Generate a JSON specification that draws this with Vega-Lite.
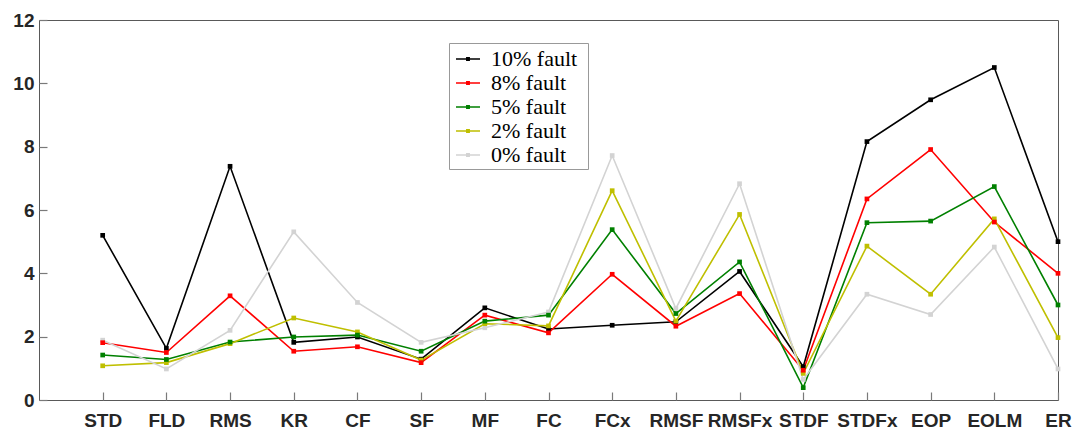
{
  "$schema": "https://vega.github.io/schema/vega-lite/v6.json",
  "width": 1019,
  "height": 380,
  "autosize": {"type": "none"},
  "padding": {"left": 39, "top": 20, "right": 19, "bottom": 32},
  "background": "white",
  "config": {
    "view": {"stroke": "#595959", "strokeWidth": 1},
    "axis": {"grid": false, "domain": false, "ticks": true, "tickColor": "#7a7a7a", "tickWidth": 1.2, "tickSize": 8,
      "labelFont": "Liberation Sans", "labelFontWeight": "bold", "labelFontSize": 19, "labelColor": "#262626", "title": null}
  },
  "data": {"values": [
    {"feature":"STD","series":"10% fault","value":5.2},
    {"feature":"FLD","series":"10% fault","value":1.63},
    {"feature":"RMS","series":"10% fault","value":7.38},
    {"feature":"KR","series":"10% fault","value":1.82},
    {"feature":"CF","series":"10% fault","value":1.99},
    {"feature":"SF","series":"10% fault","value":1.29},
    {"feature":"MF","series":"10% fault","value":2.91},
    {"feature":"FC","series":"10% fault","value":2.24},
    {"feature":"FCx","series":"10% fault","value":2.36},
    {"feature":"RMSF","series":"10% fault","value":2.47},
    {"feature":"RMSFx","series":"10% fault","value":4.06},
    {"feature":"STDF","series":"10% fault","value":1.05},
    {"feature":"STDFx","series":"10% fault","value":8.16},
    {"feature":"EOP","series":"10% fault","value":9.48},
    {"feature":"EOLM","series":"10% fault","value":10.5},
    {"feature":"ER","series":"10% fault","value":5.0},
    {"feature":"STD","series":"8% fault","value":1.81},
    {"feature":"FLD","series":"8% fault","value":1.5},
    {"feature":"RMS","series":"8% fault","value":3.29},
    {"feature":"KR","series":"8% fault","value":1.54},
    {"feature":"CF","series":"8% fault","value":1.68},
    {"feature":"SF","series":"8% fault","value":1.18},
    {"feature":"MF","series":"8% fault","value":2.68},
    {"feature":"FC","series":"8% fault","value":2.12},
    {"feature":"FCx","series":"8% fault","value":3.97},
    {"feature":"RMSF","series":"8% fault","value":2.33},
    {"feature":"RMSFx","series":"8% fault","value":3.36},
    {"feature":"STDF","series":"8% fault","value":0.94},
    {"feature":"STDFx","series":"8% fault","value":6.35},
    {"feature":"EOP","series":"8% fault","value":7.91},
    {"feature":"EOLM","series":"8% fault","value":5.62},
    {"feature":"ER","series":"8% fault","value":4.0},
    {"feature":"STD","series":"5% fault","value":1.42},
    {"feature":"FLD","series":"5% fault","value":1.28},
    {"feature":"RMS","series":"5% fault","value":1.83},
    {"feature":"KR","series":"5% fault","value":1.99},
    {"feature":"CF","series":"5% fault","value":2.05},
    {"feature":"SF","series":"5% fault","value":1.54},
    {"feature":"MF","series":"5% fault","value":2.49},
    {"feature":"FC","series":"5% fault","value":2.68},
    {"feature":"FCx","series":"5% fault","value":5.38},
    {"feature":"RMSF","series":"5% fault","value":2.73},
    {"feature":"RMSFx","series":"5% fault","value":4.36},
    {"feature":"STDF","series":"5% fault","value":0.39},
    {"feature":"STDFx","series":"5% fault","value":5.6},
    {"feature":"EOP","series":"5% fault","value":5.65},
    {"feature":"EOLM","series":"5% fault","value":6.74},
    {"feature":"ER","series":"5% fault","value":3.0},
    {"feature":"STD","series":"2% fault","value":1.08},
    {"feature":"FLD","series":"2% fault","value":1.18},
    {"feature":"RMS","series":"2% fault","value":1.78},
    {"feature":"KR","series":"2% fault","value":2.59},
    {"feature":"CF","series":"2% fault","value":2.15},
    {"feature":"SF","series":"2% fault","value":1.26},
    {"feature":"MF","series":"2% fault","value":2.41},
    {"feature":"FC","series":"2% fault","value":2.34},
    {"feature":"FCx","series":"2% fault","value":6.61},
    {"feature":"RMSF","series":"2% fault","value":2.49},
    {"feature":"RMSFx","series":"2% fault","value":5.86},
    {"feature":"STDF","series":"2% fault","value":0.84},
    {"feature":"STDFx","series":"2% fault","value":4.86},
    {"feature":"EOP","series":"2% fault","value":3.34},
    {"feature":"EOLM","series":"2% fault","value":5.72},
    {"feature":"ER","series":"2% fault","value":1.97},
    {"feature":"STD","series":"0% fault","value":1.89},
    {"feature":"FLD","series":"0% fault","value":0.98},
    {"feature":"RMS","series":"0% fault","value":2.2},
    {"feature":"KR","series":"0% fault","value":5.31},
    {"feature":"CF","series":"0% fault","value":3.08},
    {"feature":"SF","series":"0% fault","value":1.82},
    {"feature":"MF","series":"0% fault","value":2.28},
    {"feature":"FC","series":"0% fault","value":2.78},
    {"feature":"FCx","series":"0% fault","value":7.72},
    {"feature":"RMSF","series":"0% fault","value":2.89},
    {"feature":"RMSFx","series":"0% fault","value":6.83},
    {"feature":"STDF","series":"0% fault","value":0.65},
    {"feature":"STDFx","series":"0% fault","value":3.34},
    {"feature":"EOP","series":"0% fault","value":2.7},
    {"feature":"EOLM","series":"0% fault","value":4.83},
    {"feature":"ER","series":"0% fault","value":0.98}
  ]},
  "mark": {"type": "line", "strokeWidth": 1.6, "point": {"shape": "square", "size": 22, "filled": true}},
  "encoding": {
    "x": {"field": "feature", "type": "ordinal",
      "sort": ["STD","FLD","RMS","KR","CF","SF","MF","FC","FCx","RMSF","RMSFx","STDF","STDFx","EOP","EOLM","ER"],
      "scale": {"type": "point", "padding": 0.5, "align": 1},
      "axis": {"orient": "bottom", "labelAngle": 0, "labelPadding": 11, "offset": -8, "tickSize": 8}},
    "y": {"field": "value", "type": "quantitative",
      "scale": {"domain": [0, 12], "nice": false, "zero": true},
      "axis": {"orient": "left", "values": [0,2,4,6,8,10,12], "labelPadding": 5, "offset": -8, "tickSize": 8}},
    "color": {"field": "series", "type": "nominal",
      "scale": {"domain": ["10% fault","8% fault","5% fault","2% fault","0% fault"],
                "range": ["#000000","#ff0000","#008000","#bfbf00","#d3d3d3"]},
      "sort": ["10% fault","8% fault","5% fault","2% fault","0% fault"],
      "legend": {"title": "\u00a0", "titleOrient": "right", "titlePadding": 8, "titleFontSize": 10,
        "orient": "none", "legendX": 410, "legendY": 23,
        "symbolType": "M-1,0H1M-0.1,-0.1H0.1V0.1H-0.1Z", "symbolSize": 576, "symbolStrokeWidth": 1.5,
        "symbolOffset": 3,
        "labelFont": "Liberation Serif, Times New Roman, serif", "labelFontSize": 22, "labelColor": "#000000",
        "labelExpr": "datum.label == '10% fault' ? datum.label : '\u00a0' + datum.label",
        "rowPadding": -1, "labelOffset": 10, "padding": 3,
        "strokeColor": "#999999", "fillColor": "#ffffff"}},
    "order": {"field": "series"}
  }
}
